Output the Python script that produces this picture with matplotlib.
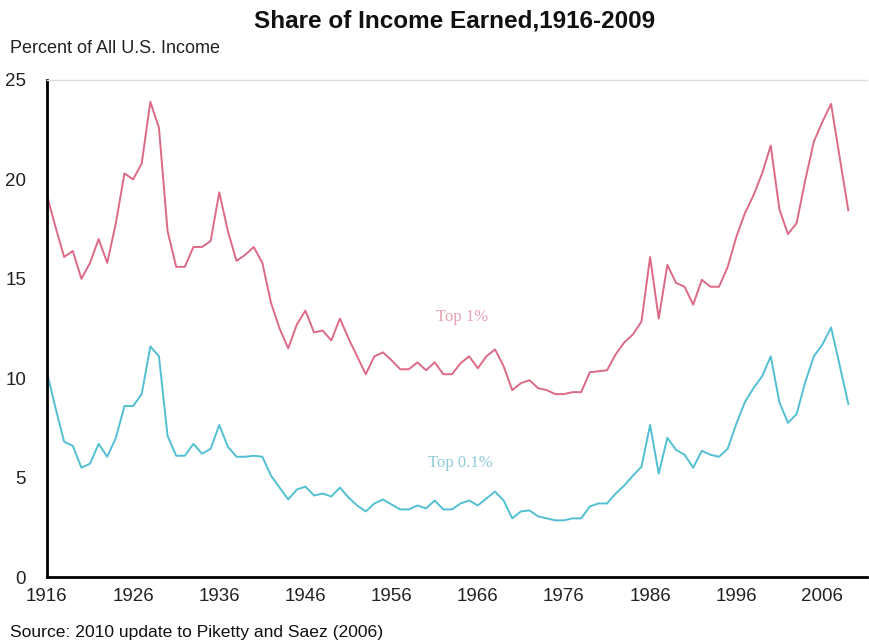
import matplotlib
matplotlib.use("Agg")
import matplotlib.pyplot as plt

# years 1916-2009
years = list(range(1916, 2010))

# share of income, top 1%
top1 = [19.2, 17.6, 16.1, 16.4, 15.0, 15.8, 17.0, 15.8, 17.8, 20.3,
        20.0, 20.8, 23.9, 22.6, 17.4, 15.6, 15.6, 16.6, 16.6, 16.9,
        19.35, 17.4, 15.9, 16.2, 16.6, 15.8, 13.8, 12.5, 11.5, 12.7,
        13.4, 12.3, 12.4, 11.9, 13.0, 12.0, 11.1, 10.2, 11.1, 11.3,
        10.9, 10.45, 10.45, 10.8, 10.4, 10.8, 10.2, 10.2, 10.75, 11.1,
        10.5, 11.1, 11.45, 10.6, 9.4, 9.75, 9.9, 9.5, 9.4, 9.2,
        9.2, 9.3, 9.3, 10.3, 10.35, 10.4, 11.2, 11.8, 12.2, 12.85,
        16.1, 13.0, 15.7, 14.8, 14.6, 13.7, 14.95, 14.6, 14.6, 15.6,
        17.1, 18.3, 19.2, 20.3, 21.7, 18.5, 17.25, 17.8, 19.95, 21.9,
        22.9, 23.8, 21.1, 18.45]

# share of income, top 0.1%
top01 = [10.3, 8.5, 6.8, 6.6, 5.5, 5.7, 6.7, 6.05, 7.0, 8.6,
         8.6, 9.2, 11.6, 11.1, 7.1, 6.1, 6.1, 6.7, 6.2, 6.45,
         7.65, 6.55, 6.05, 6.05, 6.1, 6.05, 5.1, 4.5, 3.9, 4.4,
         4.55, 4.1, 4.2, 4.05, 4.5, 4.0, 3.6, 3.3, 3.7, 3.9,
         3.65, 3.4, 3.4, 3.6, 3.45, 3.85, 3.4, 3.4, 3.7, 3.85,
         3.6, 3.95, 4.3, 3.85, 2.95, 3.3, 3.35, 3.05, 2.95, 2.85,
         2.85, 2.95, 2.95, 3.55, 3.7, 3.7, 4.2, 4.6, 5.1, 5.55,
         7.65, 5.2, 7.0, 6.4, 6.15, 5.5, 6.35, 6.15, 6.05, 6.45,
         7.7, 8.8, 9.5, 10.1, 11.1, 8.8, 7.75, 8.2, 9.8, 11.1,
         11.7, 12.55, 10.65, 8.7]

xticks = list(range(1916, 2010, 10))
yticks = [0, 5, 10, 15, 20, 25]

plt.rcParams["font.family"] = ["Liberation Sans", "DejaVu Sans"]

fig = plt.figure(figsize=(8.69, 6.43), dpi=100)
ax = fig.add_axes([0.054, 0.1026, 0.944, 0.773])

ax.plot(years, top1, color="#dc6a86", linewidth=1.4)
ax.plot(years, top01, color="#52c0d2", linewidth=1.4)

ax.set_xlim(1916, 2011.2)
ax.set_ylim(0, 25)
ax.set_xticks(xticks)
ax.set_yticks(yticks)
ax.tick_params(axis="both", length=0, labelsize=13.5, colors="#222222")
ax.tick_params(axis="x", pad=8)
ax.tick_params(axis="y", pad=15)

ax.spines["left"].set_linewidth(2)
ax.spines["bottom"].set_linewidth(2)
ax.spines["right"].set_visible(False)
ax.spines["top"].set_color("#dddddd")
ax.spines["top"].set_linewidth(1)

# series labels inside the plot
ax.text(1964.2, 13.1, "Top 1%", color="#e8a0b2", fontsize=12,
        family=["Liberation Serif", "DejaVu Serif"], ha="center", va="center")
ax.text(1964.0, 5.75, "Top 0.1%", color="#8fcbd8", fontsize=12,
        family=["Liberation Serif", "DejaVu Serif"], ha="center", va="center")

fig.text(0.523, 0.968, "Share of Income Earned,1916-2009", fontsize=17.5,
         fontweight="bold", ha="center", va="center", color="#111111")
fig.text(0.012, 0.925, "Percent of All U.S. Income", fontsize=13,
         ha="left", va="center", color="#222222")
fig.text(0.012, 0.017, "Source: 2010 update to Piketty and Saez (2006)",
         fontsize=12.6, ha="left", va="center", color="#111111")

plt.savefig("out.png", dpi=100)
